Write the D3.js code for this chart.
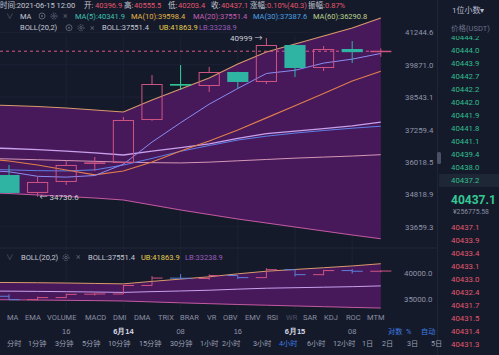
<!DOCTYPE html>
<html><head><meta charset="utf-8">
<script src="https://cdn.jsdelivr.net/npm/d3@7/dist/d3.min.js"></script>
<style>
html,body{margin:0;padding:0;background:#151a2b;overflow:hidden}
svg{display:block;font-family:Roboto,"Noto Sans CJK SC",sans-serif}
</style></head><body>
<svg id="c" width="499" height="355"></svg>
<script>
// ---------- data ----------
const times = ["06-13 04:00","06-13 08:00","06-13 12:00","06-13 16:00","06-13 20:00","06-14 00:00","06-14 04:00","06-14 08:00","06-14 12:00","06-14 16:00","06-14 20:00","06-15 00:00","06-15 04:00","06-15 08:00","06-15 12:00"];
const open  = [35700, 35529, 34868, 35271, 35940, 35978, 37632, 39050, 38993, 39568, 39157, 40700, 39734, 40531, 40396.9];
const high  = [35900, 35903, 35456, 36053, 36204, 37750, 39444, 39859, 39776, 39580, 40999, 40720, 40658, 40871, 40555.5];
const low   = [35450, 34850, 34730.6, 35160, 35678, 35950, 37600, 38831, 38750, 38872, 39074, 39362, 39610, 39942, 40203.4];
const close = [35529, 34868, 35271, 35903, 35980, 37632, 39074, 39034, 39568, 39157, 40700, 39734, 40531, 40397, 40437.1];
const ma5   = [35700, 35650, 35480, 35450, 35510, 35931, 36772, 37525, 38258, 38893, 39507, 39639, 39938, 40104, 40341.9];
const ma10  = [36150, 36053, 35903, 35717, 35532, 35680, 36015, 36430, 36812, 37240, 37715, 38200, 38690, 39195, 39598.4];
const ma20  = [36555, 36527, 36481, 36424, 36357, 36280, 36430, 36562, 36707, 36916, 37098, 37197, 37296, 37398, 37551.4];
const ma30  = [35740, 35720, 35690, 35680, 35720, 35900, 36150, 36420, 36640, 36850, 37000, 37120, 37220, 37310, 37387.6];
const ma60  = [36150, 36130, 36100, 36070, 36040, 36010, 35990, 35980, 36010, 36060, 36110, 36160, 36200, 36240, 36290.8];
const ub    = [38230, 38206, 38167, 38107, 38027, 37948, 38427, 38871, 39321, 39900, 40404, 40743, 41085, 41430, 41863.9];
const lb    = [34880, 34849, 34794, 34740, 34686, 34613, 34432, 34253, 34092, 33932, 33791, 33650, 33506, 33366, 33238.9];
const priceTicks = [33659.3, 34818.9, 36018.5, 37259.4, 38543.1, 39871.0, 41244.6];
const subTicks = [35000, 40000];
const timeTickKeys = ["06-13 16:00","06-14 00:00","06-14 08:00","06-14 16:00","06-15 00:00","06-15 08:00"];
const timeTickLabels = ["16","6月14","08","16","6月15","08"];
const asks = ["40444.2","40444.0","40443.9","40442.7","40442.2","40442.0","40441.9","40441.8","40441.1","40439.4","40438.0","40437.2"];
const bids = ["40437.1","40433.9","40433.4","40433.1","40433.0","40432.4","40431.7","40431.5","40431.4","40431.3"];
const lastPrice = 40437.1, highMark = 40999, lowMark = 34730.6;
const indicatorTabs = ["MA","EMA","VOLUME","MACD","DMI","DMA","TRIX","BRAR","VR","OBV","EMV","RSI","WR","SAR","KDJ","ROC","MTM"];
const periods = ["分时","1分钟","3分钟","5分钟","10分钟","15分钟","30分钟","1小时","2小时","3小时","4小时","6小时","12小时","1日","2日","3日","5日"];

// ---------- scales ----------
const svg = d3.select("#c");
const x = d3.scaleBand().domain(times).range([-33.9, 395.1]).paddingInner(0.26).paddingOuter(0.13);
const cx = d => x(d) + x.bandwidth()/2;
const y = d3.scaleLog().domain([33659.3, 41244.6]).range([226.7, 32.3]);
const ys = d3.scaleLinear().domain([35000, 40000]).range([299, 273.3]);
const idx = d3.range(times.length);

const C = {
  bg:"#151a2b", purple:"#47195a", up:"#cf5483", down:"#2fb3a2", ub:"#d99a6c", lb:"#c25aa0",
  ma5:"#8a8cf2", ma10:"#e07f4c", ma20:"#c8a0ec", ma30:"#5f7ee6", ma60:"#d596b6",
  txt:"#8f95a8", red:"#e2586d", green:"#2fbf8d"
};
const HF = 7.5; // header font size

// gridlines
const grid = svg.append("g");
grid.selectAll("line.h").data(priceTicks).join("line")
  .attr("x1",0).attr("x2",382).attr("y1",d=>y(d)).attr("y2",d=>y(d)).attr("stroke","#1c2135");
grid.selectAll("line.v").data(timeTickKeys).join("line")
  .attr("x1",d=>cx(d)).attr("x2",d=>cx(d)).attr("y1",36).attr("y2",310).attr("stroke","#1c2135");

// ---------- main chart ----------
const main = svg.append("g");
main.append("path").datum(idx)
  .attr("d", d3.area().x(i=>cx(times[i])).y0(i=>y(lb[i])).y1(i=>y(ub[i])))
  .attr("fill", C.purple);
const lineFor = (arr, sc) => d3.line().x(i=>cx(times[i])).y(i=>sc(arr[i]));
[[ub,C.ub,1.1],[lb,C.lb,1.1],[ma60,C.ma60,1],[ma30,C.ma30,1],[ma20,C.ma20,1.3],[ma10,C.ma10,1.1],[ma5,C.ma5,1]].forEach(([arr,col,w])=>{
  main.append("path").datum(idx).attr("d", lineFor(arr,y)).attr("fill","none").attr("stroke",col).attr("stroke-width",w);
});

// current price dashed line
main.append("line").attr("x1",0).attr("x2",372).attr("y1",y(lastPrice)).attr("y2",y(lastPrice))
  .attr("stroke","#d65a86").attr("stroke-dasharray","3,3").attr("stroke-width",1);

// candles
const cg = main.append("g");
idx.forEach(i=>{
  const up = close[i] >= open[i];
  const col = up ? C.up : (i===7 ? "#33d39e" : C.down);
  const top = y(Math.max(open[i],close[i])), bot = y(Math.min(open[i],close[i]));
  const xc = cx(times[i]), bw = x.bandwidth();
  cg.append("line").attr("x1",xc).attr("x2",xc).attr("y1",y(high[i])).attr("y2",top).attr("stroke",col);
  cg.append("line").attr("x1",xc).attr("x2",xc).attr("y1",bot).attr("y2",y(low[i])).attr("stroke",col);
  const h = bot - top;
  if (h < 1.5) {
    cg.append("rect").attr("x",x(times[i])).attr("y",top-0.5).attr("width",bw).attr("height",1.5).attr("fill",col);
  } else if (up) {
    cg.append("rect").attr("x",x(times[i])+0.5).attr("y",top+0.5).attr("width",bw-1).attr("height",h-1)
      .attr("fill","none").attr("stroke",col).attr("stroke-width",1);
  } else {
    cg.append("rect").attr("x",x(times[i])).attr("y",top).attr("width",bw).attr("height",h).attr("fill",col);
  }
});

// high / low markers
const hiI = high.indexOf(highMark), loI = low.indexOf(lowMark);
svg.append("text").attr("x",cx(times[hiI])-4).attr("y",y(highMark)).attr("dy","0.35em").attr("text-anchor","end")
  .attr("font-size",8).attr("fill","#c9ccd6").text(d3.format(".0f")(highMark)+" →");
svg.append("text").attr("x",cx(times[loI])+2).attr("y",y(lowMark)).attr("dy","0.35em")
  .attr("font-size",8).attr("fill","#c9ccd6").text("← "+lowMark.toFixed(1));

// price axis
const ax = svg.append("g").attr("transform","translate(382,0)")
  .call(d3.axisRight(y).tickValues(priceTicks).tickFormat(d3.format(".1f")).tickSize(0).tickPadding(23));
ax.select(".domain").remove();
ax.selectAll("text").attr("fill",C.txt).attr("font-size",7.8).attr("font-family","Roboto");

// ---------- sub chart ----------
const sub = svg.append("g");
sub.append("line").attr("x1",0).attr("x2",437).attr("y1",248).attr("y2",248).attr("stroke","#22283c");
sub.append("path").datum(idx)
  .attr("d", d3.area().x(i=>cx(times[i])).y0(i=>ys(lb[i])).y1(i=>ys(ub[i])))
  .attr("fill", C.purple);
[[ub,C.ub],[lb,C.lb],[ma20,C.ma20]].forEach(([arr,col])=>{
  sub.append("path").datum(idx).attr("d", lineFor(arr,ys)).attr("fill","none").attr("stroke",col).attr("stroke-width",1);
});
idx.forEach(i=>{
  const up = close[i] >= open[i];
  const col = up ? C.up : "#5b80d8";
  const xc = cx(times[i]), hw = x.bandwidth()/2;
  sub.append("line").attr("x1",xc).attr("x2",xc).attr("y1",ys(high[i])).attr("y2",ys(low[i])).attr("stroke",col);
  sub.append("line").attr("x1",xc-hw).attr("x2",xc).attr("y1",ys(open[i])).attr("y2",ys(open[i])).attr("stroke",col);
  sub.append("line").attr("x1",xc).attr("x2",xc+hw).attr("y1",ys(close[i])).attr("y2",ys(close[i])).attr("stroke",col);
});
const sax = svg.append("g").attr("transform","translate(382,0)")
  .call(d3.axisRight(ys).tickValues(subTicks).tickFormat(d3.format(".1f")).tickSize(0).tickPadding(22));
sax.select(".domain").remove();
sax.selectAll("text").attr("fill",C.txt).attr("font-size",7.8).attr("font-family","Roboto");

// time axis
const tmap = new Map(timeTickKeys.map((k,j)=>[k,timeTickLabels[j]]));
const tax = svg.append("g").attr("transform","translate(0,326)")
  .call(d3.axisBottom(x).tickValues(timeTickKeys).tickFormat(d=>tmap.get(d)).tickSize(0).tickPadding(0));
tax.select(".domain").remove();
tax.selectAll("text").attr("fill",d=>tmap.get(d).includes("月")?"#d8dbe4":C.txt)
  .attr("font-weight",d=>tmap.get(d).includes("月")?"bold":"normal").attr("font-size",7.5).attr("dy","0.35em").attr("y",5.5);

// ---------- header texts ----------
function T(xp, yp, s, col, fs, extra){
  const t = svg.append("text").attr("x",xp).attr("y",yp).attr("dy","0.35em").attr("font-size",fs||HF).attr("fill",col).text(s);
  if (extra) extra(t);
  return t;
}
const W = "#c6c9d4", G = "#5b6174";
T(0,5,"时间:2021-06-15 12:00",W);
T(84,5,"开:",W); T(95,5,open[14].toFixed(1),C.red);
T(124,5,"高:",W); T(134,5,high[14].toFixed(1),C.red);
T(168,5,"低:",W); T(178,5,low[14].toFixed(1),C.red);
T(211,5,"收:",W); T(221,5,close[14].toFixed(1),C.red);
T(250,5,"涨幅:",W); T(267,5,"0.10%(40.3)",C.red);
T(308,5,"振幅:",W); T(325,5,"0.87%",C.red);

function icons(x0, yc){
  svg.append("circle").attr("cx",x0).attr("cy",yc).attr("r",3).attr("fill","none").attr("stroke",G);
  svg.append("circle").attr("cx",x0).attr("cy",yc).attr("r",1).attr("fill",G);
  svg.append("circle").attr("cx",x0+12).attr("cy",yc).attr("r",3).attr("fill","none").attr("stroke",G).attr("stroke-dasharray","1.5,1");
  svg.append("circle").attr("cx",x0+12).attr("cy",yc).attr("r",1.2).attr("fill","none").attr("stroke",G);
  T(x0+21,yc,"×",G,8.5);
}
T(6,16,"∨",G,7.5); T(20,16,"MA",W); icons(42,16);
T(75,16,"MA(5):"+ma5[14].toFixed(1),"#3cc3b2");
T(131,16,"MA(10):"+ma10[14].toFixed(1),"#e4b648");
T(193,16,"MA(20):"+ma20[14].toFixed(1),"#c65fb2");
T(253,16,"MA(30):"+ma30[14].toFixed(1),"#4ba0e2");
T(313,16,"MA(60):"+ma60[14].toFixed(1),"#bcd48c");
T(20,27.7,"BOLL(20,2)",W); icons(69,27.7);
T(102,27.7,"BOLL:"+ma20[14].toFixed(1),W);
T(159,27.7,"UB:"+ub[14].toFixed(1),"#e6d04c");
T(199,27.7,"LB:"+lb[14].toFixed(1),"#9c5cba");

// sub header
T(6,257.5,"∨",G,7.5); T(21,257.5,"BOLL(20,2)",W);
svg.append("circle").attr("cx",66).attr("cy",257.5).attr("r",3).attr("fill","none").attr("stroke",G).attr("stroke-dasharray","1.5,1");
svg.append("circle").attr("cx",66).attr("cy",257.5).attr("r",1.2).attr("fill","none").attr("stroke",G);
T(76,257.5,"×",G,8.5);
T(88,257.5,"BOLL:"+ma20[14].toFixed(1),W);
T(141,257.5,"UB:"+ub[14].toFixed(1),"#e6d04c");
T(185,257.5,"LB:"+lb[14].toFixed(1),"#9c5cba");

// ---------- right panel ----------
svg.append("line").attr("x1",437.5).attr("x2",437.5).attr("y1",0).attr("y2",355).attr("stroke","#1f2538");
svg.append("rect").attr("x",437).attr("y",152).attr("width",4).attr("height",12).attr("rx",1.5).attr("fill","#4a5066");
T(452,10,"1位小数▾","#b8bccb",8);
T(451,28,"价格(USDT)","#6a7088",7.5);
svg.append("clipPath").attr("id","obc").append("rect").attr("x",440).attr("y",36).attr("width",60).attr("height",320);
svg.append("rect").attr("x",439).attr("y",174).attr("width",60).attr("height",13).attr("fill","#1d2735");
svg.append("g").attr("clip-path","url(#obc)").selectAll("text").data(asks).join("text")
  .attr("x",451).attr("y",(d,k)=>37.7+13*k).attr("dy","0.35em").attr("font-size",7.8).attr("fill",C.green).text(d=>d);
T(451,200,lastPrice.toFixed(1),"#35c894",12,t=>t.attr("font-weight","bold"));
T(453,212,"¥256775.58","#8a90a0",6.8);
svg.append("g").selectAll("text").data(bids).join("text")
  .attr("x",451).attr("y",(d,k)=>227.3+13*k).attr("dy","0.35em").attr("font-size",7.8).attr("fill",C.red).text(d=>d);

// ---------- bottom tabs ----------
const tabX = [7,25,47,85,113,134,158,180,207,223,245,267,286,303,324,346,367];
indicatorTabs.forEach((s,k)=>T(tabX[k],317.5,s,s==="WR"?"#4c5266":"#8a90a2",7.5));
const perX = [7,28,55,82,108,139,170,200,222,253,279,307,333,362,382,407,431];
periods.forEach((s,k)=>T(perX[k],343.5,s,s==="4小时"?"#3d7de2":"#9aa0b2",7.2));
T(388,331.5,"对数","#3d7de2",7.2); T(406,331.5,"%","#3d7de2",7.2); T(421,331.5,"自动","#3d7de2",7.2);
</script>
</body></html>
